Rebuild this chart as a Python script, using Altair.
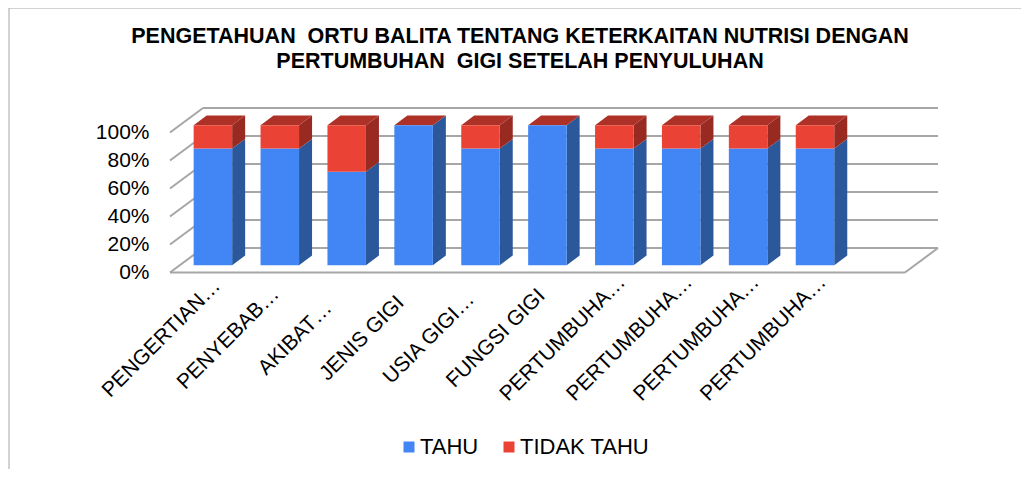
import altair as alt
import pandas as pd

# ---------------- data ----------------
categories = ["PENGERTIAN…", "PENYEBAB…", "AKIBAT…", "JENIS GIGI", "USIA GIGI…",
              "FUNGSI GIGI", "PERTUMBUHA…", "PERTUMBUHA…", "PERTUMBUHA…", "PERTUMBUHA…"]
tahu = [83.3, 83.3, 66.7, 100.0, 83.3, 100.0, 83.3, 83.3, 83.3, 83.3]
tidak_tahu = [16.7, 16.7, 33.3, 0.0, 16.7, 0.0, 16.7, 16.7, 16.7, 16.7]
series = ["TAHU", "TIDAK TAHU"]
y_ticks = [0, 20, 40, 60, 80, 100]

# ---------------- geometry / style ----------------
PX_X = 66.9          # pixels per category step
PX_Y = 1.4           # pixels per percent
W, H = 770, 180      # plot area
DEPTH_X = 33 / PX_X  # full depth of the 3-D box (x units)
DEPTH_Y = 24.5 / PX_Y
BAR_FRONT, BAR_BACK = 0.30, 0.694
HALF_W = 19.25 / PX_X
FLOOR_R = 702 / PX_X
X_LO = -DEPTH_X
X_HI = X_LO + W / PX_X
Y_LO = -7.5 / PX_Y
Y_HI = Y_LO + H / PX_Y

BLUE, BLUE_SIDE = "#4285F4", "#2B579B"
RED, RED_SIDE, RED_TOP = "#EA4335", "#982A22", "#AE3128"
GRID = "#A6A6A6"
FONT = "Liberation Sans"

FX, FY = BAR_FRONT * DEPTH_X, BAR_FRONT * DEPTH_Y
BX, BY = BAR_BACK * DEPTH_X, BAR_BACK * DEPTH_Y

# ---------------- tables ----------------
front, side, top = [], [], []
for i in range(len(categories)):
    base = 0.0
    for s, vals in zip(series, [tahu, tidak_tahu]):
        y0, y1 = base, base + vals[i]
        base = y1
        front.append(dict(x=i - HALF_W + FX, x2=i + HALF_W + FX, y=y0 + FY, y2=y1 + FY, series=s))
        face = f"{i}-{s}"
        side.append(dict(x=i + HALF_W + FX, lo=y0 + FY, hi=y1 + FY, face=face, series=s))
        side.append(dict(x=i + HALF_W + BX, lo=y0 + BY, hi=y1 + BY, face=face, series=s))
    top.append(dict(y=base + FY, xl=i - HALF_W + FX, xr=i + HALF_W + FX, face=str(i)))
    top.append(dict(y=base + BY, xl=i - HALF_W + BX, xr=i + HALF_W + BX, face=str(i)))

grid = []
for v in y_ticks:
    grid.append(dict(x=0, y=v + DEPTH_Y, x2=FLOOR_R + DEPTH_X, y2=v + DEPTH_Y))
    grid.append(dict(x=-DEPTH_X, y=v, x2=0, y2=v + DEPTH_Y))
grid.append(dict(x=-DEPTH_X, y=0, x2=FLOOR_R, y2=0))
grid.append(dict(x=FLOOR_R, y=0, x2=FLOOR_R + DEPTH_X, y2=DEPTH_Y))

df_front, df_side, df_top, df_grid = map(pd.DataFrame, [front, side, top, grid])

xs = alt.Scale(domain=[X_LO, X_HI], nice=False, zero=False)
ys = alt.Scale(domain=[Y_LO, Y_HI], nice=False, zero=False)

label_js = "[" + ",".join("'" + c + "'" for c in categories) + "][datum.value]"

x_axis = alt.Axis(values=list(range(len(categories))), labelExpr=label_js, title=None,
                  labelAngle=-45, labelAlign="center", labelBaseline="middle",
                  labelPadding=58, labelOffset=-42, ticks=False, tickSize=0, domain=False,
                  grid=False, labelOverlap=False, labelBound=False, labelFlush=False,
                  labelLimit=400, labelFontSize=21, labelFont=FONT, labelColor="#000")
y_axis = alt.Axis(values=y_ticks, labelExpr="datum.value + '%'", title=None,
                  ticks=False, tickSize=0, domain=False, grid=False, labelPadding=21,
                  labelFontSize=21, labelFont=FONT, labelColor="#000")

# outer chart frame (top and left edges, as in the reference)
frame_top = alt.Chart(pd.DataFrame({"k": [0]})).mark_rule(color=GRID, strokeWidth=1).encode(
    x=alt.value(-161), x2=alt.value(851), y=alt.value(-92))
frame_left = alt.Chart(pd.DataFrame({"k": [0]})).mark_rule(color=GRID, strokeWidth=1).encode(
    x=alt.value(-161), y=alt.value(-92), y2=alt.value(369))

grid_layer = alt.Chart(df_grid).mark_rule(color=GRID, strokeWidth=2).encode(
    x=alt.X("x:Q", scale=xs, axis=x_axis), x2="x2:Q",
    y=alt.Y("y:Q", scale=ys, axis=y_axis), y2="y2:Q")

side_layer = alt.Chart(df_side).mark_area(orient="vertical").encode(
    x=alt.X("x:Q", scale=xs, axis=x_axis),
    y=alt.Y("lo:Q", scale=ys, axis=y_axis, stack=None), y2="hi:Q",
    detail="face:N",
    color=alt.Color("series:N", scale=alt.Scale(domain=series, range=[BLUE_SIDE, RED_SIDE]), legend=None))

top_layer = alt.Chart(df_top).mark_area(orient="horizontal", color=RED_TOP).encode(
    y=alt.Y("y:Q", scale=ys, axis=y_axis),
    x=alt.X("xl:Q", scale=xs, axis=x_axis, stack=None), x2="xr:Q",
    detail="face:N")

front_layer = alt.Chart(df_front).mark_rect().encode(
    x=alt.X("x:Q", scale=xs, axis=x_axis), x2="x2:Q",
    y=alt.Y("y:Q", scale=ys, axis=y_axis), y2="y2:Q",
    color=alt.Color("series:N", scale=alt.Scale(domain=series, range=[BLUE, RED]),
                    legend=alt.Legend(orient="none", legendX=224, legendY=336, direction="horizontal",
                                      title=None, symbolType="square", symbolSize=121,
                                      symbolOffset=4, symbolStrokeWidth=0, labelFontSize=22,
                                      labelFont=FONT, labelColor="#000", columnPadding=15,
                                      labelOffset=0)))

chart = alt.layer(grid_layer, side_layer, top_layer, front_layer, frame_top, frame_left).resolve_scale(
    color="independent"
).properties(
    width=W, height=H,
    autosize=alt.AutoSizeParams(type="none"),
    padding={"left": 162, "top": 92, "right": 81, "bottom": 189},
    title=alt.TitleParams(
        text=["PENGETAHUAN \u00a0ORTU BALITA TENTANG KETERKAITAN NUTRISI DENGAN",
              "PERTUMBUHAN \u00a0GIGI SETELAH PENYULUHAN"],
        font=FONT, fontSize=21.5, fontWeight="bold", color="#000", lineHeight=25,
        anchor="middle", frame="group", dx=-35, dy=92.5, offset=6, baseline="bottom"),
).configure(background="white").configure_view(strokeWidth=0, strokeOpacity=0, stroke="transparent")

chart.save("out.html", embed_options={"renderer": "svg", "actions": False})
